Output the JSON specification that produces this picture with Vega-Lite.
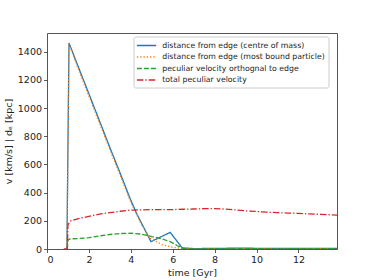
{
  "$schema": "https://vega.github.io/schema/vega-lite/v6.json",
  "width": 290,
  "height": 216,
  "autosize": {"type": "none"},
  "padding": {"left": 47, "top": 33, "right": 37, "bottom": 31},
  "background": "white",
  "config": {
    "font": "DejaVu Sans",
    "view": {"stroke": "#555", "strokeWidth": 1},
    "axis": {
      "grid": false,
      "domain": false,
      "tickColor": "#333",
      "tickSize": 3.5,
      "tickWidth": 0.8,
      "labelColor": "#222",
      "labelFontSize": 9.5,
      "labelPadding": 2,
      "titleColor": "#222",
      "titleFontSize": 9.5,
      "titleFontWeight": "normal"
    },
    "legend": {
      "title": null,
      "orient": "none",
      "legendX": 86.5,
      "legendY": 3.5,
      "symbolType": "M-1.12,0H2.74",
      "symbolSize": 100,
      "symbolStrokeWidth": 1.3,
      "labelFontSize": 7.8,
      "labelColor": "#222",
      "labelOffset": 13.7,
      "labelLimit": 400,
      "rowPadding": 1.5,
      "padding": 3,
      "fillColor": "white",
      "strokeColor": "#ccc",
      "cornerRadius": 2
    }
  },
  "data": {
    "values": [
      {"series": "distance from edge (centre of mass)", "t": 0.95, "v": 0},
      {"series": "distance from edge (centre of mass)", "t": 1.05, "v": 1462},
      {"series": "distance from edge (centre of mass)", "t": 1.5, "v": 1290},
      {"series": "distance from edge (centre of mass)", "t": 2.0, "v": 1101},
      {"series": "distance from edge (centre of mass)", "t": 2.5, "v": 911},
      {"series": "distance from edge (centre of mass)", "t": 3.0, "v": 720},
      {"series": "distance from edge (centre of mass)", "t": 3.5, "v": 535},
      {"series": "distance from edge (centre of mass)", "t": 4.0, "v": 345},
      {"series": "distance from edge (centre of mass)", "t": 4.3, "v": 245},
      {"series": "distance from edge (centre of mass)", "t": 4.96, "v": 52},
      {"series": "distance from edge (centre of mass)", "t": 5.88, "v": 118},
      {"series": "distance from edge (centre of mass)", "t": 6.45, "v": 8},
      {"series": "distance from edge (centre of mass)", "t": 7.0, "v": 3},
      {"series": "distance from edge (centre of mass)", "t": 8.0, "v": 4},
      {"series": "distance from edge (centre of mass)", "t": 9.0, "v": 6},
      {"series": "distance from edge (centre of mass)", "t": 10.0, "v": 5},
      {"series": "distance from edge (centre of mass)", "t": 11.0, "v": 4},
      {"series": "distance from edge (centre of mass)", "t": 12.0, "v": 5},
      {"series": "distance from edge (centre of mass)", "t": 13.0, "v": 4},
      {"series": "distance from edge (centre of mass)", "t": 13.84, "v": 4},
      {"series": "distance from edge (most bound particle)", "t": 0.95, "v": 0},
      {"series": "distance from edge (most bound particle)", "t": 1.05, "v": 1455},
      {"series": "distance from edge (most bound particle)", "t": 1.5, "v": 1275},
      {"series": "distance from edge (most bound particle)", "t": 2.0, "v": 1085},
      {"series": "distance from edge (most bound particle)", "t": 2.5, "v": 895},
      {"series": "distance from edge (most bound particle)", "t": 3.0, "v": 705},
      {"series": "distance from edge (most bound particle)", "t": 3.5, "v": 520},
      {"series": "distance from edge (most bound particle)", "t": 4.0, "v": 330},
      {"series": "distance from edge (most bound particle)", "t": 4.5, "v": 175},
      {"series": "distance from edge (most bound particle)", "t": 4.93, "v": 75},
      {"series": "distance from edge (most bound particle)", "t": 5.5, "v": 30},
      {"series": "distance from edge (most bound particle)", "t": 6.0, "v": 12},
      {"series": "distance from edge (most bound particle)", "t": 6.5, "v": 3},
      {"series": "distance from edge (most bound particle)", "t": 7.0, "v": 1},
      {"series": "distance from edge (most bound particle)", "t": 8.0, "v": 2},
      {"series": "distance from edge (most bound particle)", "t": 9.0, "v": 4},
      {"series": "distance from edge (most bound particle)", "t": 10.0, "v": 3},
      {"series": "distance from edge (most bound particle)", "t": 11.0, "v": 2},
      {"series": "distance from edge (most bound particle)", "t": 12.0, "v": 3},
      {"series": "distance from edge (most bound particle)", "t": 13.0, "v": 2},
      {"series": "distance from edge (most bound particle)", "t": 13.84, "v": 2},
      {"series": "peculiar velocity orthognal to edge", "t": 0.97, "v": 0},
      {"series": "peculiar velocity orthognal to edge", "t": 1.0, "v": 64},
      {"series": "peculiar velocity orthognal to edge", "t": 1.1, "v": 72},
      {"series": "peculiar velocity orthognal to edge", "t": 1.5, "v": 74},
      {"series": "peculiar velocity orthognal to edge", "t": 2.0, "v": 80},
      {"series": "peculiar velocity orthognal to edge", "t": 2.5, "v": 93},
      {"series": "peculiar velocity orthognal to edge", "t": 3.0, "v": 103},
      {"series": "peculiar velocity orthognal to edge", "t": 3.5, "v": 110},
      {"series": "peculiar velocity orthognal to edge", "t": 4.0, "v": 112},
      {"series": "peculiar velocity orthognal to edge", "t": 4.5, "v": 106},
      {"series": "peculiar velocity orthognal to edge", "t": 5.0, "v": 88},
      {"series": "peculiar velocity orthognal to edge", "t": 5.5, "v": 72},
      {"series": "peculiar velocity orthognal to edge", "t": 5.9, "v": 50},
      {"series": "peculiar velocity orthognal to edge", "t": 6.2, "v": 25},
      {"series": "peculiar velocity orthognal to edge", "t": 6.5, "v": 3},
      {"series": "peculiar velocity orthognal to edge", "t": 7.0, "v": 1},
      {"series": "peculiar velocity orthognal to edge", "t": 8.0, "v": 2},
      {"series": "peculiar velocity orthognal to edge", "t": 9.0, "v": 3},
      {"series": "peculiar velocity orthognal to edge", "t": 10.0, "v": 2},
      {"series": "peculiar velocity orthognal to edge", "t": 11.0, "v": 1},
      {"series": "peculiar velocity orthognal to edge", "t": 12.0, "v": 2},
      {"series": "peculiar velocity orthognal to edge", "t": 13.0, "v": 2},
      {"series": "peculiar velocity orthognal to edge", "t": 13.84, "v": 2},
      {"series": "total peculiar velocity", "t": 0.8, "v": 0},
      {"series": "total peculiar velocity", "t": 0.97, "v": 0},
      {"series": "total peculiar velocity", "t": 1.0, "v": 170},
      {"series": "total peculiar velocity", "t": 1.1, "v": 198},
      {"series": "total peculiar velocity", "t": 1.5, "v": 215},
      {"series": "total peculiar velocity", "t": 2.0, "v": 232},
      {"series": "total peculiar velocity", "t": 2.5, "v": 247},
      {"series": "total peculiar velocity", "t": 3.0, "v": 258},
      {"series": "total peculiar velocity", "t": 3.5, "v": 268},
      {"series": "total peculiar velocity", "t": 4.0, "v": 276},
      {"series": "total peculiar velocity", "t": 4.5, "v": 278},
      {"series": "total peculiar velocity", "t": 5.0, "v": 279},
      {"series": "total peculiar velocity", "t": 5.5, "v": 279},
      {"series": "total peculiar velocity", "t": 6.0, "v": 280},
      {"series": "total peculiar velocity", "t": 6.5, "v": 282},
      {"series": "total peculiar velocity", "t": 7.0, "v": 284},
      {"series": "total peculiar velocity", "t": 7.5, "v": 286},
      {"series": "total peculiar velocity", "t": 8.0, "v": 286},
      {"series": "total peculiar velocity", "t": 8.5, "v": 283},
      {"series": "total peculiar velocity", "t": 9.0, "v": 277},
      {"series": "total peculiar velocity", "t": 9.5, "v": 271},
      {"series": "total peculiar velocity", "t": 10.0, "v": 266},
      {"series": "total peculiar velocity", "t": 10.5, "v": 261},
      {"series": "total peculiar velocity", "t": 11.0, "v": 258},
      {"series": "total peculiar velocity", "t": 11.5, "v": 255},
      {"series": "total peculiar velocity", "t": 12.0, "v": 253},
      {"series": "total peculiar velocity", "t": 12.5, "v": 249},
      {"series": "total peculiar velocity", "t": 13.0, "v": 246},
      {"series": "total peculiar velocity", "t": 13.5, "v": 243},
      {"series": "total peculiar velocity", "t": 13.84, "v": 241}
    ]
  },
  "mark": {"type": "line", "strokeWidth": 1.3, "clip": true},
  "encoding": {
    "x": {
      "field": "t",
      "type": "quantitative",
      "scale": {"domain": [0, 13.84], "nice": false, "zero": false},
      "axis": {"values": [0, 2, 4, 6, 8, 10, 12], "format": "d", "title": "time [Gyr]", "titlePadding": 3}
    },
    "y": {
      "field": "v",
      "type": "quantitative",
      "scale": {"domain": [0, 1533], "nice": false},
      "axis": {"values": [0, 200, 400, 600, 800, 1000, 1200, 1400], "format": "d", "title": "v [km/s] | dₑ [kpc]", "titlePadding": 4}
    },
    "color": {
      "field": "series",
      "type": "nominal",
      "scale": {
        "domain": ["distance from edge (centre of mass)", "distance from edge (most bound particle)", "peculiar velocity orthognal to edge", "total peculiar velocity"],
        "range": ["#1f77b4", "#ff7f0e", "#2ca02c", "#d62728"]
      }
    },
    "strokeDash": {
      "field": "series",
      "type": "nominal",
      "scale": {
        "domain": ["distance from edge (centre of mass)", "distance from edge (most bound particle)", "peculiar velocity orthognal to edge", "total peculiar velocity"],
        "range": [[1, 0], [1.3, 2], [5, 2], [6.5, 2, 1.3, 2]]
      }
    }
  }
}
